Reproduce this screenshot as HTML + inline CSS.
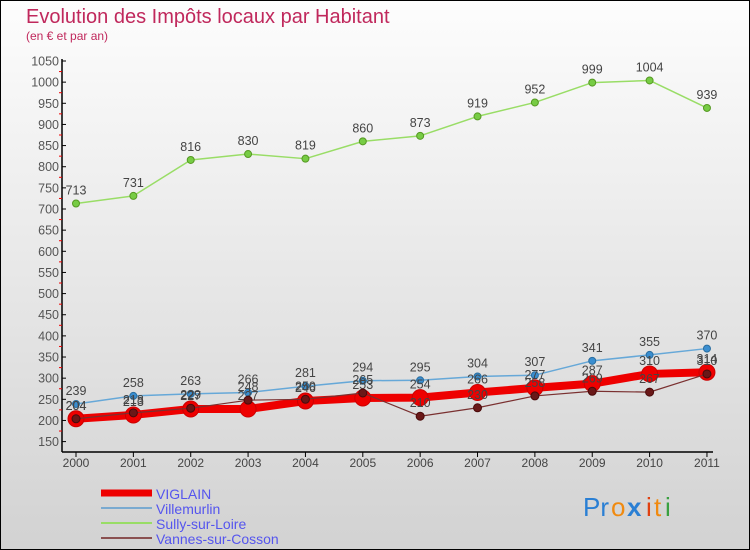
<!DOCTYPE html>
<html><head><meta charset="utf-8"><style>
body{margin:0;}
#wrap{position:relative;width:748px;height:548px;border:1px solid #000;background:linear-gradient(#fdfdfd,#d2d2d2);overflow:hidden;font-family:"Liberation Sans",sans-serif;}
</style></head><body>
<div id="wrap">
<svg id="chart" width="748" height="548" style="position:absolute;left:0;top:0">
<text x="25" y="22" font-size="20" fill="#c0285c">Evolution des Impôts locaux par Habitant</text>
<text x="25" y="39" font-size="12" fill="#c0285c">(en € et par an)</text>
<g id="axes"></g><g id="series"></g><g id="legend"></g>
<g font-size="26" font-family="'Liberation Sans',sans-serif">
<text x="582" y="515" fill="#2a7fd4">Pr</text><text x="610" y="515" fill="#f08a10">o</text><text x="626" y="515" fill="#2a7fd4" font-weight="bold">x</text><text x="645" y="515" fill="#e04010">i</text><text x="653" y="515" fill="#f08a10">t</text><text x="664" y="515" fill="#3aa040">i</text>
</g>
</svg>
</div>
<script>
const years=[2000,2001,2002,2003,2004,2005,2006,2007,2008,2009,2010,2011];
const viglain=[204,213,227,227,246,253,254,266,277,287,310,314];
const villemurlin=[239,258,263,266,281,294,295,304,307,341,355,370];
const sully=[713,731,816,830,819,860,873,919,952,999,1004,939];
const vannes=[204,218,229,248,250,265,210,230,258,269,267,310];
const yTicks=[150,200,250,300,350,400,450,500,550,600,650,700,750,800,850,900,950,1000,1050];
const NS="http://www.w3.org/2000/svg";
const x0=75,xStep=57.36,yTop=60,yMax=1050,yMin=150,yBot=440.6;
function xs(i){return x0+i*xStep;}
function ys(v){return yTop+(yMax-v)*(yBot-yTop)/(yMax-yMin);}
function mk(tag,attrs,parent){const e=document.createElementNS(NS,tag);for(const k in attrs)e.setAttribute(k,attrs[k]);parent.appendChild(e);return e;}
const axes=document.getElementById('axes');
let yl=mk('line',{x1:61,y1:58,x2:61,y2:451,stroke:'#000','stroke-width':1.5},axes);


let xl=mk('line',{x1:61,y1:451,x2:712,y2:451,stroke:'#000','stroke-width':1.5},axes);


yTicks.forEach((v,i)=>{
  const y=ys(v);
  mk('line',{x1:61,y1:y,x2:65,y2:y,stroke:'#000'},axes);
  if(i<yTicks.length-1){mk('line',{x1:58,y1:ys(v+25),x2:61,y2:ys(v+25),stroke:'#e00'},axes);}
  const t=mk('text',{x:58,y:y+4.5,'font-size':12.5,fill:'#555','text-anchor':'end'},axes);
  t.textContent=v;
  
  
});
years.forEach((yr,i)=>{
  const x=xs(i);
  mk('line',{x1:x,y1:451,x2:x,y2:456,stroke:'#000'},axes);
  const t=mk('text',{x:x,y:466,'font-size':12,fill:'#444','text-anchor':'middle'},axes);
  t.textContent=yr;
  
  
});
const ser=document.getElementById('series');
function draw(vals,name,color,w,r,dot,dotStroke){
  const g=mk('g',{},ser);
  
  
  mk('polyline',{points:vals.map((v,i)=>xs(i)+','+ys(v)).join(' '),fill:'none',stroke:color,'stroke-width':w,'stroke-linejoin':'round'},g);
  vals.forEach((v,i)=>{
    const c=mk('circle',{cx:xs(i),cy:ys(v),r:r,fill:dot,stroke:dotStroke,'stroke-width':1},g);
    
    
    const t=mk('text',{x:xs(i),y:ys(v)-9,'font-size':12.5,fill:'#444','text-anchor':'middle'},g);
    t.textContent=v;
    
    
  });
}
draw(sully,'sully-sur-loire','#99dd66',1.5,3.5,'#77cc44','#559922');
draw(villemurlin,'villemurlin','#66a8d8',1.5,3.5,'#3a8ed0','#2a6ea0');
draw(viglain,'viglain','#ee0000',8,8,'#ee0000','#cc0000');
draw(vannes,'vannes-sur-cosson','#7a3030',1.2,4,'#6a1818','#4a0a0a');
const leg=document.getElementById('legend');
const items=[['VIGLAIN','#ee0000',7],['Villemurlin','#7aaad0',2],['Sully-sur-Loire','#99dd66',2],['Vannes-sur-Cosson','#8a5050',2]];
items.forEach((it,i)=>{
  const y=492+i*15;
  const g=mk('g',{},leg);
  
  
  mk('line',{x1:100,y1:y,x2:151,y2:y,stroke:it[1],'stroke-width':it[2]},g);
  const t=mk('text',{x:155,y:y+6,'font-size':14,fill:'#5555ee'},g);
  t.textContent=it[0];
});
</script>
</body></html>
